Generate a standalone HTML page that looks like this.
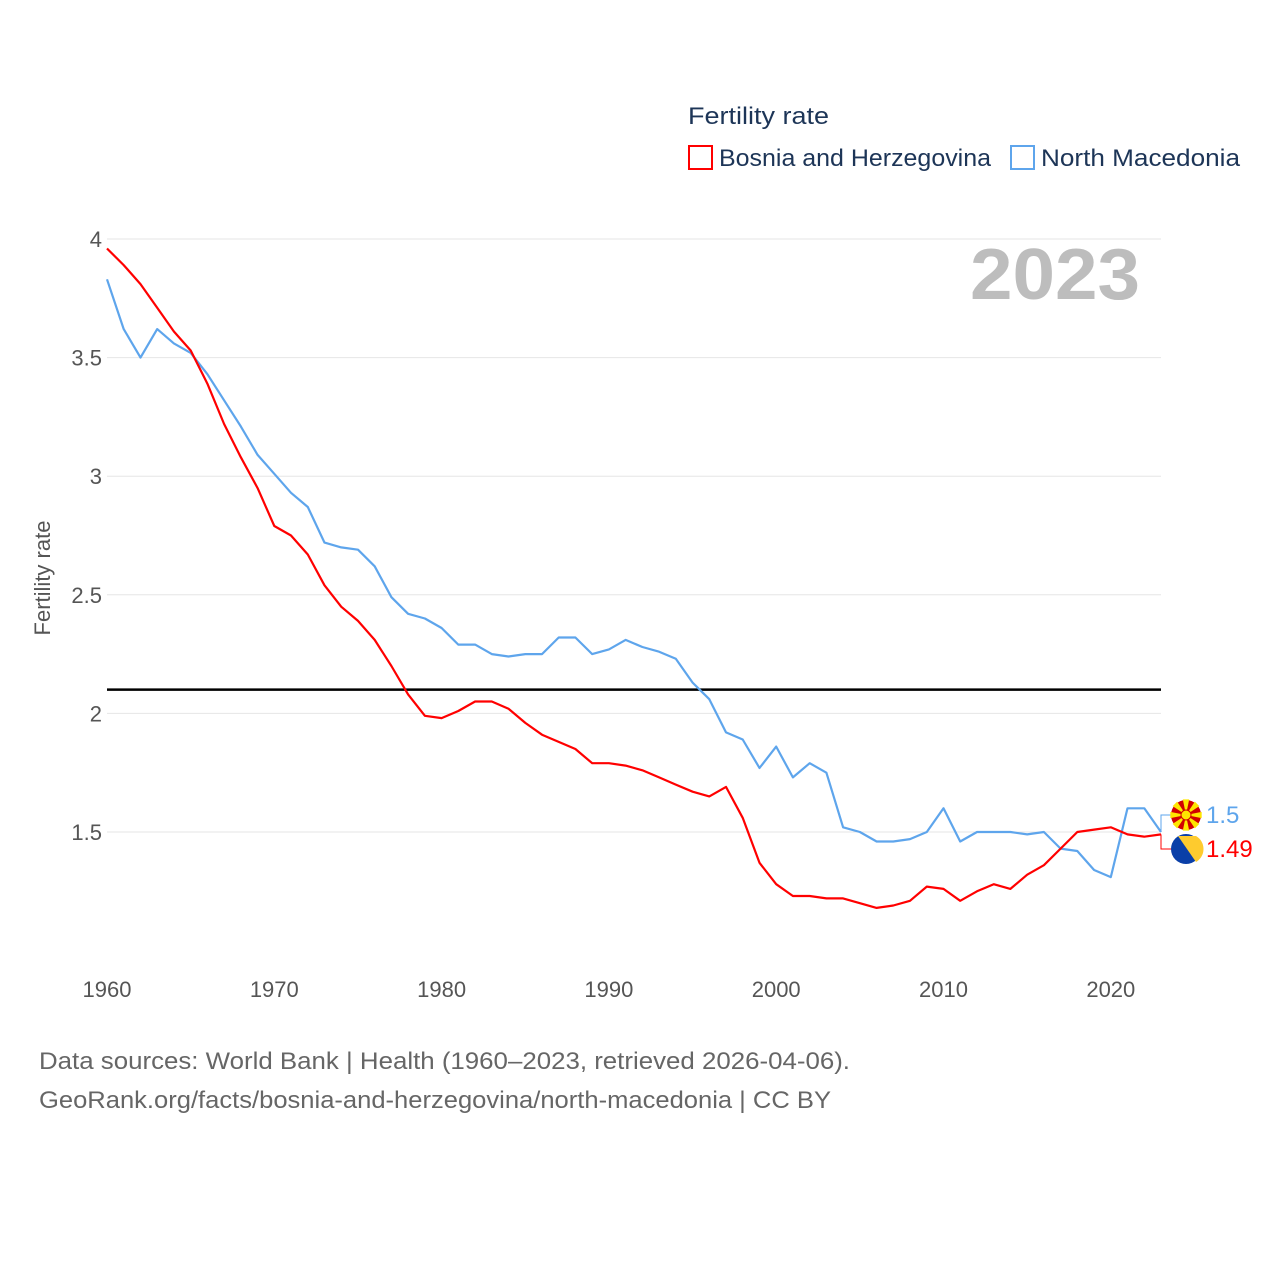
<!DOCTYPE html>
<html><head><meta charset="utf-8"><style>
html,body{margin:0;padding:0;background:#fff;}
svg{display:block;font-family:"Liberation Sans",sans-serif;}
</style></head><body>
<svg id="chart" width="1280" height="1280" viewBox="0 0 1280 1280">
  <g>
    <text x="688" y="124" font-size="24" fill="#1d3557" textLength="141" lengthAdjust="spacingAndGlyphs">Fertility rate</text>
    <rect x="689" y="146" width="23" height="23" fill="none" stroke="#ff0000" stroke-width="2"/>
    <text x="719" y="166" font-size="24" fill="#1d3557" textLength="272" lengthAdjust="spacingAndGlyphs">Bosnia and Herzegovina</text>
    <rect x="1011" y="146" width="23" height="23" fill="none" stroke="#5ea5ec" stroke-width="2"/>
    <text x="1041" y="166" font-size="24" fill="#1d3557" textLength="199" lengthAdjust="spacingAndGlyphs">North Macedonia</text>
  </g>
  <g id="grid"></g>
  <g id="yticks"></g>
  <g id="xticks"></g>
  <text x="970" y="299" font-size="72" font-weight="bold" fill="#bdbdbd" textLength="170" lengthAdjust="spacingAndGlyphs">2023</text>
  <text transform="translate(50,578) rotate(-90)" font-size="22" fill="#555" text-anchor="middle">Fertility rate</text>
  <g id="series"></g>
  <g id="ends"></g>
  <g>
    <text x="39" y="1069" font-size="24" fill="#666" textLength="811" lengthAdjust="spacingAndGlyphs">Data sources: World Bank | Health (1960–2023, retrieved 2026-04-06).</text>
    <text x="39" y="1108" font-size="24" fill="#666" textLength="792" lengthAdjust="spacingAndGlyphs">GeoRank.org/facts/bosnia-and-herzegovina/north-macedonia | CC BY</text>
  </g>
</svg>
<script>
const years = [];
for (let y = 1960; y <= 2023; y++) years.push(y);
const bosnia = [3.96,3.89,3.81,3.71,3.61,3.53,3.39,3.22,3.08,2.95,2.79,2.75,2.67,2.54,2.45,2.39,2.31,2.20,2.08,1.99,1.98,2.01,2.05,2.05,2.02,1.96,1.91,1.88,1.85,1.79,1.79,1.78,1.76,1.73,1.70,1.67,1.65,1.69,1.56,1.37,1.28,1.23,1.23,1.22,1.22,1.20,1.18,1.19,1.21,1.27,1.26,1.21,1.25,1.28,1.26,1.32,1.36,1.43,1.50,1.51,1.52,1.49,1.48,1.49];
const macedonia = [3.83,3.62,3.50,3.62,3.56,3.52,3.43,3.32,3.21,3.09,3.01,2.93,2.87,2.72,2.70,2.69,2.62,2.49,2.42,2.40,2.36,2.29,2.29,2.25,2.24,2.25,2.25,2.32,2.32,2.25,2.27,2.31,2.28,2.26,2.23,2.13,2.06,1.92,1.89,1.77,1.86,1.73,1.79,1.75,1.52,1.50,1.46,1.46,1.47,1.50,1.60,1.46,1.50,1.50,1.50,1.49,1.50,1.43,1.42,1.34,1.31,1.60,1.60,1.50];
const yTicks = [1.5,2,2.5,3,3.5,4];
const yTickLabels = ["1.5","2","2.5","3","3.5","4"];
const xTicks = [1960,1970,1980,1990,2000,2010,2020];
const replacementRate = [2.1];

const NS = "http://www.w3.org/2000/svg";
const X = yr => 107 + (yr - 1960) * (1161 - 107) / 63;
const Y = v => 239 + (4 - v) * (832 - 239) / 2.5;
function mk(tag, attrs, parent) {
  const e = document.createElementNS(NS, tag);
  for (const k in attrs) e.setAttribute(k, attrs[k]);
  parent.appendChild(e);
  return e;
}
const grid = document.getElementById('grid');
const yt = document.getElementById('yticks');
yTicks.forEach((v, i) => {
  const l = mk('line', {x1: 107, x2: 1161, y1: Y(v), y2: Y(v), stroke: '#e6e6e6', 'stroke-width': 1}, grid);
  
  
  const t = mk('text', {x: 102, y: Y(v) + 8, 'font-size': 22, fill: '#555', 'text-anchor': 'end'}, yt);
  t.textContent = yTickLabels[i];
  
  
});
const xt = document.getElementById('xticks');
xTicks.forEach(yr => {
  const t = mk('text', {x: X(yr), y: 997, 'font-size': 22, fill: '#555', 'text-anchor': 'middle'}, xt);
  t.textContent = String(yr);
  
  
});
const ser = document.getElementById('series');
const ref = mk('line', {x1: 107, x2: 1161, y1: Y(replacementRate[0]), y2: Y(replacementRate[0]), stroke: '#000', 'stroke-width': 2.5}, ser);


function line(vals, color, name) {
  const d = vals.map((v, i) => (i ? 'L' : 'M') + X(years[i]).toFixed(1) + ',' + Y(v).toFixed(1)).join(' ');
  const p = mk('path', {d: d, fill: 'none', stroke: color, 'stroke-width': 2.2, 'stroke-linejoin': 'round'}, ser);
  
  
}
line(macedonia, '#5ea5ec', 'line-north-macedonia');
line(bosnia, '#ff0000', 'line-bosnia');

const ends = document.getElementById('ends');
const lastI = years.length - 1;
const xe = X(years[lastI]);
const mY = 815, bY = 849;
const c1 = mk('path', {d: `M${xe},${Y(macedonia[lastI])} L${xe},${mY} L1172,${mY}`, fill: 'none', stroke: '#5ea5ec', 'stroke-width': 1}, ends);


const c2 = mk('path', {d: `M${xe},${Y(bosnia[lastI])} L${xe},${bY} L1172,${bY}`, fill: 'none', stroke: '#ff0000', 'stroke-width': 1}, ends);


const fm = mk('g', {}, ends);


mk('circle', {cx: 1186, cy: mY, r: 15, fill: '#d20000'}, fm);
for (let k = 0; k < 8; k++) {
  const a = k * Math.PI / 4;
  mk('polygon', {points: `1186,${mY} ${1186 + 16 * Math.cos(a - 0.2)},${mY + 16 * Math.sin(a - 0.2)} ${1186 + 16 * Math.cos(a + 0.2)},${mY + 16 * Math.sin(a + 0.2)}`, fill: '#ffe600'}, fm);
}
mk('circle', {cx: 1186, cy: mY, r: 5, fill: '#ffe600', stroke: '#d20000', 'stroke-width': 1}, fm);
const fb = mk('g', {}, ends);


mk('circle', {cx: 1186, cy: bY, r: 15, fill: '#0a3fa8'}, fb);
mk('path', {d: `M1178,${bY - 13} L1196,${bY - 13} A15,15 0 0 1 1196,${bY + 13} Z`, fill: '#fecb2e'}, fb);
const lm = mk('text', {x: 1206, y: mY + 8, 'font-size': 24, fill: '#5ea5ec'}, ends);
lm.textContent = String(macedonia[lastI].toFixed(2)).replace(/0$/, '').replace(/\.$/, '');


const lb = mk('text', {x: 1206, y: bY + 8, 'font-size': 24, fill: '#ff0000'}, ends);
lb.textContent = String(bosnia[lastI]);


</script>
</body></html>
